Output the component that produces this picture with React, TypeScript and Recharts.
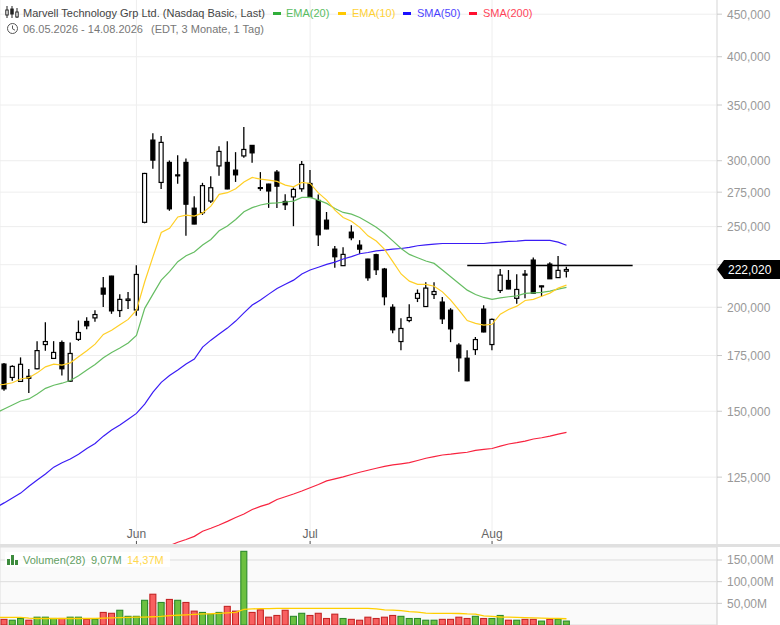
import { Bar, CartesianGrid, ComposedChart, Line, XAxis, YAxis, ReferenceLine } from "recharts";

const dates = [
  "05-06", "05-07", "05-08", "05-11", "05-12", "05-13", "05-14", "05-15", "05-18", "05-19", "05-20", "05-21", "05-22",
  "05-26", "05-27", "05-28", "05-29", "06-01", "06-02", "06-03", "06-04", "06-05", "06-08", "06-09", "06-10",
  "06-11", "06-12", "06-15", "06-16", "06-17", "06-18", "06-22", "06-23", "06-24", "06-25", "06-26", "06-29",
  "06-30", "07-01", "07-02", "07-06", "07-07", "07-08", "07-09", "07-10", "07-13", "07-14", "07-15", "07-16",
  "07-17", "07-20", "07-21", "07-22", "07-23", "07-24", "07-27", "07-28", "07-29", "07-30", "07-31", "08-03",
  "08-04", "08-05", "08-06", "08-07", "08-10", "08-11", "08-12", "08-13", "08-14",
  // rest of the axis, no prices yet
  "08-17", "08-18", "08-19", "08-20", "08-21", "08-24", "08-25", "08-26", "08-27", "08-28", "08-31", "09-01",
  "09-02", "09-03", "09-04", "09-08", "09-09",
];

// 05-06 sits left of the visible area, only the averages run in from there
const opens = [
  null, 170900, 164700, 162900, 165200, 168700, 180400, 173600, 181400, 163000, 183000, 192300, 194200, 210900, 218000,
  198200, 203800, 198500, 253000, 317600, 282500, 298600, 287700, 298600, 263100, 259800, 268300, 295700, 298600,
  292300, 304000, 313000, 278500, 281200, 290700, 268000, 271400, 277600, 281700, 268800, 254500, 234900, 224400,
  246200, 237500, 228500, 231300, 222300, 200000, 181900, 192800, 205000, 200400, 207200, 202900, 198400, 180100,
  173700, 177900, 199000, 180400, 209500, 215400, 205000, 219200, 227900, 211600, 225400, 217100, 221000,
];
const highs = [
  null, 171400, 170300, 174100, 168600, 182100, 191900, 182100, 182400, 181400, 192800, 194600, 198400, 217400, 218200,
  207400, 208600, 224600, 290100, 323600, 321200, 300200, 304600, 301900, 272000, 282200, 287400, 312200, 316700,
  307200, 329400, 313200, 290700, 281500, 292300, 273500, 278600, 299700, 292300, 273300, 260300, 236900, 236200,
  251000, 240800, 228700, 231900, 223000, 201700, 194000, 201700, 210100, 214400, 214400, 205700, 199500, 181100,
  177600, 184200, 201100, 193900, 222300, 221700, 219200, 221700, 229600, 212400, 226500, 230500, 223700,
];
const lows = [
  null, 158700, 163200, 162800, 157800, 168500, 177300, 173400, 165600, 162800, 182200, 188200, 192100, 200200, 196400,
  194700, 199100, 195300, 252300, 293400, 277500, 261200, 281400, 243700, 251600, 258200, 266900, 287800, 277300,
  282900, 302400, 298300, 276000, 263300, 263300, 261700, 250300, 275300, 270800, 237000, 248200, 223100, 224200,
  240800, 231700, 215200, 218600, 201100, 186100, 177600, 191900, 202900, 200200, 204600, 191000, 181600, 167300,
  163000, 175300, 186600, 177600, 208000, 210200, 201900, 205100, 207700, 206100, 216200, 216900, 217100,
];
const closes = [
  null, 159600, 169800, 170800, 164300, 177400, 181900, 176500, 168700, 176000, 186500, 190000, 196000, 207400, 198000,
  204400, 204600, 219000, 289600, 300500, 315600, 262600, 288500, 266000, 251800, 280000, 278400, 307800, 277500,
  288500, 309500, 306600, 277800, 275900, 279600, 265600, 277100, 296900, 271000, 244400, 248400, 230000, 231500,
  242400, 234900, 217000, 221900, 205900, 187900, 188600, 194400, 207800, 210900, 208900, 193700, 188400, 173900,
  163200, 182900, 186800, 193400, 218600, 210400, 210100, 218600, 207900, 212200, 216400, 221500, 222020,
];

const ema20 = [
  149300, 150900, 152600, 154300, 155200, 157300, 159800, 161200, 162100, 163300, 165500, 168100, 170700, 173900, 176500,
  178700, 181200, 185000, 199400, 207400, 215600, 220700, 226900, 230600, 233000, 237600, 241300, 247100, 250400,
  255000, 260500, 263500, 265400, 266600, 267000, 267600, 268300, 271000, 271000, 269000, 266600, 262900, 260000,
  258800, 256400, 253000, 249500, 245300, 240300, 235300, 231500, 229400, 227300, 225800, 221700, 217600, 213600,
  209700, 207200, 205500, 204400, 205300, 205900, 206400, 207800, 208100, 208400, 209100, 210300, 211300,
];
const ema10 = [
  161200, 161600, 162300, 164000, 164600, 166800, 169600, 170900, 170400, 171500, 174400, 177300, 180600, 185500, 187700,
  190500, 193400, 198400, 214600, 230100, 246000, 248800, 256800, 258100, 257400, 259700, 264600, 273300, 274600,
  277600, 282900, 286400, 285100, 284300, 283300, 280400, 279100, 282500, 281700, 274500, 269000, 261700, 256400,
  253800, 249500, 243700, 240200, 234700, 226900, 219300, 215000, 213100, 213100, 212000, 208700, 204000, 198400,
  192800, 191300, 190400, 190800, 196200, 198800, 200600, 203800, 204400, 206200, 208000, 210900, 212600,
];
const sma50 = [
  114900, 116400, 118000, 119600, 121900, 124000, 126100, 128500, 130100, 131400, 133200, 135300, 137200, 140000, 142400,
  144400, 146700, 149100, 153000, 158100, 162500, 165600, 168100, 170900, 173300, 179100, 182600, 185700, 188800,
  192500, 196900, 201200, 204000, 207400, 210700, 213200, 215600, 219300, 221700, 223400, 225200, 226600, 228600,
  230100, 231900, 232700, 233800, 234300, 234900, 235300, 236000, 237100, 237700, 238200, 238600, 238600, 238600,
  238600, 238600, 238600, 239200, 239500, 240000, 240200, 240600, 240600, 240600, 240600, 239500, 237400,
];
const sma200 = [
  null, null, null, null, null, null, null, null, null, null, null, null, null, null, null, null, null, null, null, null,
  null, 103400, 104400, 105200, 106100, 107600, 108500, 109500, 110600, 111800, 112900, 114300, 115300, 116100,
  117500, 118400, 119300, 120300, 121400, 122500, 123700, 124400, 125100, 125900, 126700, 127400, 128100, 128800,
  129300, 129700, 130100, 130900, 131700, 132300, 132900, 133200, 133600, 133900, 134600, 135000, 135300, 136200,
  137000, 137500, 138100, 138900, 139400, 140000, 140800, 141500,
];

const volumes = [
  null, 13, 11, 15, 11, 18, 18, 15, 15, 18, 18, 13, 13, 29, 27, 34, 20, 20, 57, 71, 52, 59, 57, 52, 32, 29, 25, 29, 43, 32,
  170, 29, 35, 18, 22, 34, 20, 27, 22, 27, 15, 25, 15, 13, 11, 18, 15, 18, 22, 20, 15, 15, 11, 11, 13, 13, 18, 15, 20,
  15, 15, 22, 11, 11, 13, 13, 9, 13, 13, 9.07,
];
const volumeAvg = [
  17.5, 17.5, 17.5, 17.5, 16, 15, 15, 15, 15, 15, 15, 15, 15, 16, 16.5, 17, 17.7, 18, 18, 19, 20, 21.5, 22.5, 23.5, 24.5,
  25.5, 26, 27, 28, 29, 36, 37, 38, 38, 38.5, 38.5, 38.5, 38.5, 38.5, 38.5, 38.5, 38.5, 38.5, 38.5, 38.5, 38.5, 37, 35,
  34.5, 33, 31, 29.5, 27.5, 27, 27, 27, 26.5, 25.5, 25, 21, 20, 18.5, 18, 17.5, 17, 16.5, 16, 15.5, 15, 14.37,
];

const priceTicks = [125000, 150000, 175000, 200000, 225000, 250000, 275000, 300000, 350000, 400000, 450000];
const volumeTicks = [50, 100, 150];
const monthLabels: Record<string, string> = { "06-01": "Jun", "07-01": "Jul", "08-03": "Aug" };
const monthTicks = Object.keys(monthLabels);
const lastPrice = 222020;
const levelPrice = 224500;
const levelFrom = "07-29";
const levelTo = "08-26";

const rows = dates.map((date, i) => {
  const open = opens[i];
  const close = closes[i];
  const hasCandle = open != null && close != null;
  return {
    date,
    wick: hasCandle ? [lows[i], highs[i]] : null,
    body: hasCandle ? [Math.min(open, close), Math.max(open, close)] : null,
    up: hasCandle && close >= open,
    ema20: ema20[i] ?? null,
    ema10: ema10[i] ?? null,
    sma50: sma50[i] ?? null,
    sma200: sma200[i] ?? null,
    volume: volumes[i] ?? null,
    volumeAvg: volumeAvg[i] ?? null,
  };
});

const GREEN = "#66bd63";
const YELLOW = "#ffcf26";
const BLUE = "#3a1cf5";
const RED = "#f8233f";

const noDot = () => <g />;

function WickShape(p: any) {
  if (!p.payload.wick || !(p.height >= 0)) return null;
  const cx = p.x + p.width / 2;
  return <line x1={cx} x2={cx} y1={p.y} y2={p.y + p.height} stroke="#000" strokeWidth={1.3} />;
}

function BodyShape(p: any) {
  if (!p.payload.body || !(p.height >= 0)) return null;
  const fill = p.payload.up ? "#fff" : "#000";
  return <rect x={p.x + 1} y={p.y} width={p.width - 2} height={p.height} fill={fill} stroke="#000" strokeWidth={1.2} />;
}

function VolumeShape(p: any) {
  if (p.payload.volume == null) return null;
  const fill = p.payload.up ? "#6cc040" : "#f86060";
  const stroke = p.payload.up ? "#2c8a2c" : "#c42424";
  return <rect x={p.x + 1} y={p.y} width={p.width - 2} height={p.height} fill={fill} stroke={stroke} strokeWidth={1.1} />;
}

function MonthTick({ x, y, payload }: any) {
  return (
    <g>
      <text x={x} y={y - 7} textAnchor="middle" fontSize={12} fill="#666">
        {monthLabels[payload.value]}
      </text>
      <line x1={x} x2={x} y1={y - 4} y2={y} stroke="#555" strokeWidth={1} />
    </g>
  );
}

// the last price is just the last tick, so its tag covers the 225,000 label
function PriceTick({ x, y, payload }: any) {
  if (payload.value !== lastPrice) {
    return (
      <text x={x} y={y + 4.5} fontSize={12} fill="#999">
        {payload.value.toLocaleString("en-US")}
      </text>
    );
  }
  const left = x - 10;
  return (
    <g>
      <path d={`M${left} ${y} L${left + 7} ${y - 9.5} H780 V${y + 9.5} H${left + 7} Z`} fill="#000" />
      <text x={x + 1} y={y + 4.5} fontSize={12} fill="#fff">
        {payload.value.toLocaleString("en-US")}
      </text>
    </g>
  );
}

function LegendItem({ left, color, textLeft, label }: { left: number; color: string; textLeft: number; label: string }) {
  return (
    <>
      <div style={{ position: "absolute", left, top: 12, width: 8, height: 2.5, background: color }} />
      <div style={{ position: "absolute", left: textLeft, top: 6, fontSize: 11, lineHeight: "14px", color, opacity: 0.8, whiteSpace: "nowrap" }}>
        {label}
      </div>
    </>
  );
}

export default function App() {
  return (
    <div style={{ position: "absolute", left: 0, top: 0, width: 780, height: 625, overflow: "hidden", background: "#fff", fontFamily: "'Liberation Sans', Arial, sans-serif" }}>
      <div style={{ position: "absolute", left: 0, top: 0 }}>
        <ComposedChart width={780} height={546} data={rows} margin={{ top: 0, right: 0, bottom: 0, left: 0 }} barSize={6} barGap={-6}>
          <CartesianGrid stroke="#eee" strokeWidth={1} horizontalValues={priceTicks} />
          <XAxis
            dataKey="date"
            height={1}
            ticks={monthTicks}
            interval={0}
            padding={{ left: -8.27, right: 5.8 }}
            axisLine={false}
            tickLine={false}
            tickSize={0}
            tickMargin={0}
            tick={<MonthTick />}
          />
          <YAxis
            orientation="right"
            width={63}
            scale="log"
            domain={[103600, 468000]}
            allowDataOverflow
            ticks={[...priceTicks, lastPrice]}
            interval={0}
            axisLine={{ stroke: "#ddd" }}
            tickLine={{ stroke: "#ccc" }}
            tickSize={5}
            tickMargin={5}
            tick={<PriceTick />}
          />
          <Bar dataKey="wick" shape={WickShape} isAnimationActive={false} />
          <Bar dataKey="body" shape={BodyShape} isAnimationActive={false} />
          <Line dataKey="sma200" stroke={RED} strokeWidth={1.2} dot={noDot} activeDot={false} isAnimationActive={false} />
          <Line dataKey="sma50" stroke={BLUE} strokeWidth={1.2} dot={noDot} activeDot={false} isAnimationActive={false} />
          <Line dataKey="ema20" stroke={GREEN} strokeWidth={1.2} dot={noDot} activeDot={false} isAnimationActive={false} />
          <Line dataKey="ema10" stroke={YELLOW} strokeWidth={1.2} dot={noDot} activeDot={false} isAnimationActive={false} />
          <ReferenceLine
            segment={[
              { x: levelFrom, y: levelPrice },
              { x: levelTo, y: levelPrice },
            ]}
            stroke="#000"
            strokeWidth={1.3}
          />
        </ComposedChart>
      </div>

      {/* title block */}
      <svg style={{ position: "absolute", left: 5, top: 6 }} width={14} height={13}>
        <path d="M2 0V12M7 0V12M12 2V12" stroke="#222" strokeWidth={1} />
        <rect x={0.8} y={4} width={2.4} height={5} fill="#fff" stroke="#222" />
        <rect x={5.8} y={3} width={2.4} height={5} fill="#222" stroke="#222" />
        <rect x={10.8} y={6} width={2.4} height={5} fill="#fff" stroke="#222" />
      </svg>
      <div style={{ position: "absolute", left: 23, top: 6, fontSize: 11, lineHeight: "14px", color: "#444", whiteSpace: "nowrap" }}>
        Marvell Technology Grp Ltd. (Nasdaq Basic, Last)
      </div>
      <svg style={{ position: "absolute", left: 6, top: 22 }} width={13} height={13}>
        <circle cx={6.5} cy={6.5} r={5} fill="none" stroke="#555" strokeWidth={1} />
        <path d="M6.5 3.5V6.8L9 8.2" fill="none" stroke="#555" strokeWidth={1} />
      </svg>
      <div style={{ position: "absolute", left: 23, top: 22, fontSize: 11, lineHeight: "14px", color: "#777", whiteSpace: "nowrap" }}>
        06.05.2026 - 14.08.2026
      </div>
      <div style={{ position: "absolute", left: 151, top: 22, fontSize: 11, lineHeight: "14px", color: "#777", whiteSpace: "nowrap" }}>
        (EDT, 3 Monate, 1 Tag)
      </div>
      <LegendItem left={273} color="#2fae3a" textLeft={286} label="EMA(20)" />
      <LegendItem left={338} color="#ffc800" textLeft={352} label="EMA(10)" />
      <LegendItem left={403} color="#1a10ff" textLeft={417} label="SMA(50)" />
      <LegendItem left={469} color="#ff1030" textLeft={483} label="SMA(200)" />

      {/* volume pane */}
      <div style={{ position: "absolute", left: 0, top: 547, width: 717, height: 78, background: "#fafafa" }} />
      <div style={{ position: "absolute", left: 0, top: 544, width: 780, height: 3, background: "#e0e0e0" }} />
      <div style={{ position: "absolute", left: 0, top: 547 }}>
        <ComposedChart width={780} height={79} data={rows} margin={{ top: 0, right: 0, bottom: 0, left: 0 }} barSize={8}>
          <CartesianGrid stroke="#ddd" strokeWidth={1} />
          <XAxis dataKey="date" height={1} ticks={monthTicks} interval={0} padding={{ left: -8.27, right: 5.8 }} axisLine={false} tickLine={false} tick={false} />
          <YAxis
            orientation="right"
            width={63}
            domain={[0, 180]}
            allowDataOverflow
            ticks={volumeTicks}
            interval={0}
            axisLine={{ stroke: "#ddd" }}
            tickLine={{ stroke: "#ccc" }}
            tickSize={5}
            tickMargin={5}
            tick={{ fontSize: 12, fill: "#999" }}
            tickFormatter={(v: number) => `${v},00M`}
          />
          <Bar dataKey="volume" shape={VolumeShape} isAnimationActive={false} />
          <Line dataKey="volumeAvg" stroke="#ffcf00" strokeWidth={1.3} dot={noDot} activeDot={false} isAnimationActive={false} />
        </ComposedChart>
      </div>
      <div style={{ position: "absolute", left: 5, top: 552, width: 165, height: 15, background: "rgba(255,255,255,0.85)" }} />
      <svg style={{ position: "absolute", left: 7, top: 555 }} width={12} height={10}>
        <rect x={0} y={4} width={3} height={6} fill="#3d8b3d" />
        <rect x={4} y={0} width={3} height={10} fill="#3d8b3d" />
        <rect x={8} y={5} width={3} height={5} fill="#3d8b3d" />
      </svg>
      <div style={{ position: "absolute", left: 23, top: 553, fontSize: 11, lineHeight: "14px", color: "#63a063", whiteSpace: "nowrap" }}>Volumen(28)</div>
      <div style={{ position: "absolute", left: 91, top: 553, fontSize: 11, lineHeight: "14px", color: "#63a063", whiteSpace: "nowrap" }}>9,07M</div>
      <div style={{ position: "absolute", left: 127, top: 553, fontSize: 11, lineHeight: "14px", color: "#ffd84d", whiteSpace: "nowrap" }}>14,37M</div>
    </div>
  );
}
